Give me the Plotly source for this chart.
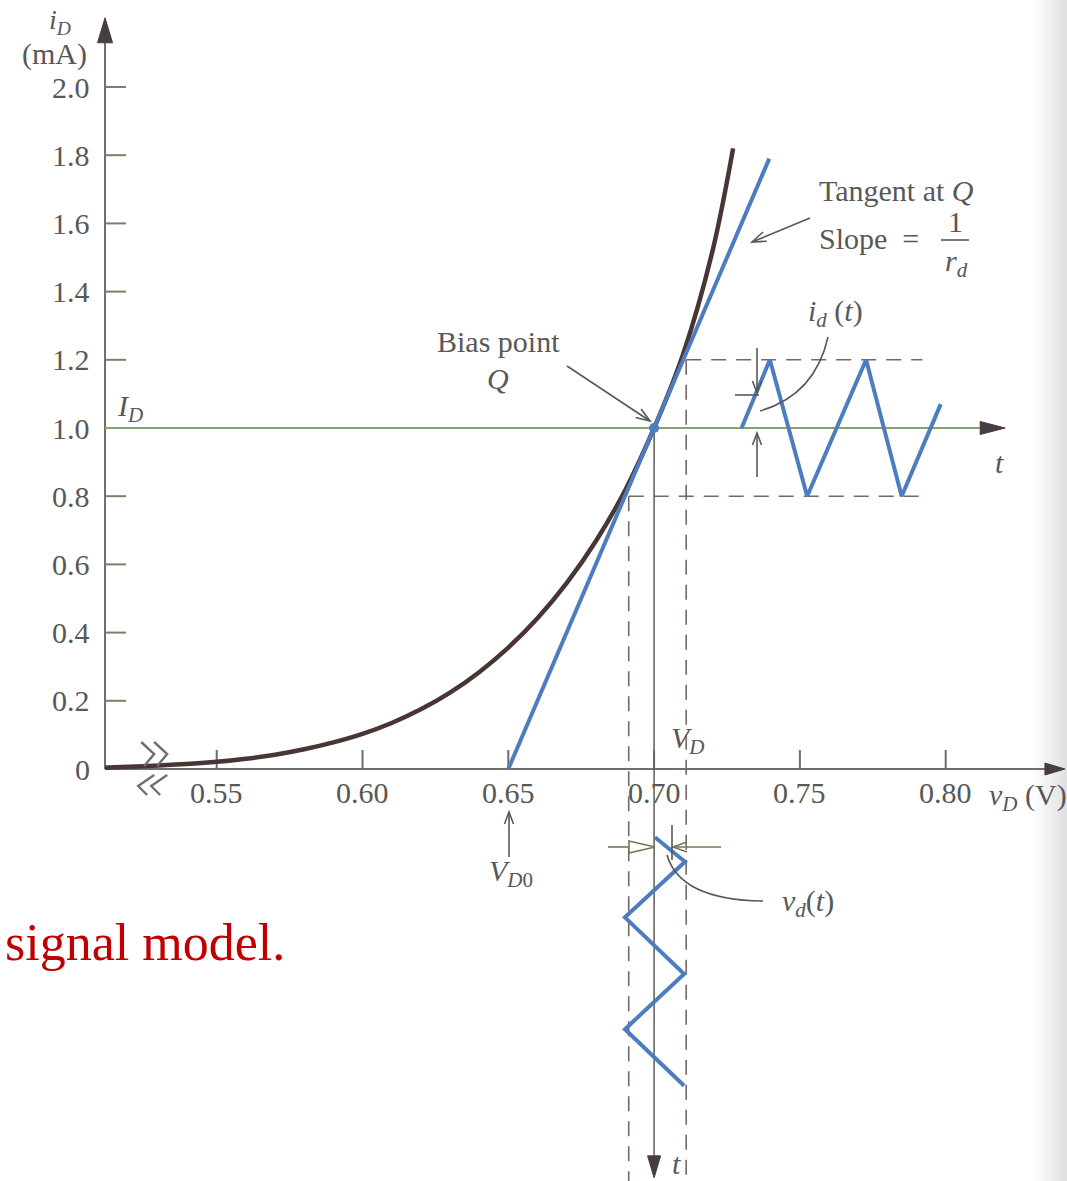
import math
import plotly.graph_objects as go

# ---------------------------------------------------------------- data
# diode characteristic i_D (mA) versus v_D (V)
v_curve = [0.5117, 0.530, 0.550, 0.560, 0.570, 0.580, 0.590, 0.600, 0.610,
           0.620, 0.630, 0.640, 0.650, 0.660, 0.670, 0.680, 0.690, 0.700,
           0.710, 0.720, 0.7271]
i_curve = [0.004, 0.010, 0.021, 0.030, 0.042, 0.058, 0.078, 0.103, 0.135,
           0.175, 0.224, 0.284, 0.356, 0.442, 0.545, 0.668, 0.816, 1.000,
           1.218, 1.518, 1.820]

# tangent at the bias point, slope = 1/r_d
v_tangent = [0.650, 0.7395]
i_tangent = [0.0, 1.79]

# bias point Q and the intercept V_D0
V_D, I_D = 0.70, 1.0
V_D0 = 0.65

# limits of the small-signal swing
v_lo, v_hi = 0.6913, 0.7110
i_lo, i_hi = 0.8, 1.2
swing_end_v = 0.792

# i_d(t) riding on I_D, time running to the right
id_time = [0.7300, 0.7397, 0.7525, 0.7727, 0.7849, 0.7983]
id_value = [1.00, 1.20, 0.80, 1.20, 0.80, 1.07]

# v_d(t) riding on V_D, time running downwards
vd_value = [0.7003, 0.7106, 0.6900, 0.7103, 0.6900, 0.7103]
vd_time = [-0.200, -0.272, -0.435, -0.601, -0.763, -0.929]

# axis ticks
y_ticks = [0.0, 0.2, 0.4, 0.6, 0.8, 1.0, 1.2, 1.4, 1.6, 1.8, 2.0]
y_tick_labels = ["0", "0.2", "0.4", "0.6", "0.8", "1.0", "1.2", "1.4", "1.6", "1.8", "2.0"]
x_ticks = [0.55, 0.60, 0.65, 0.70, 0.75, 0.80]
x_tick_labels = ["0.55", "0.60", "0.65", "0.70", "0.75", "0.80"]

# axis extents
v_axis_start, v_axis_end = 0.5117, 0.8409
i_axis_end = 2.203
id_axis_end = 0.8204
vd_axis_end = -1.199

# ---------------------------------------------------------------- canvas
W, H = 1067, 1181
KX = 0.05 / 145.8          # volts per pixel
KY = 0.2 / 68.2            # mA per pixel
X_LEFT = 0.55 - 216.7 * KX
Y_TOP = 769.0 * KY


def P(px, py):
    """Canvas pixel position -> (v, i) coordinates."""
    return X_LEFT + px * KX, Y_TOP - py * KY


SERIF = "Liberation Serif"
TXT = "#585858"
AXIS = "#6e6e6e"
DARK = "#463c42"
TICK = "#78806a"
CURVE = "#4a3535"
BLUE = "#4c7dbf"
GREEN = "#86a36a"
DASH = "#776666"
OLIVE = "#6f7a55"
RED = "#c00000"

shapes = []
annotations = []


def seg(x0, y0, x1, y1, color=AXIS, width=2, dash=None, layer="below"):
    d = dict(type="line", x0=x0, y0=y0, x1=x1, y1=y1, xref="x", yref="y",
             line=dict(color=color, width=width), layer=layer)
    if dash:
        d["line"]["dash"] = dash
    shapes.append(d)


def path_of(pts, close=False):
    s = "M " + " L ".join(f"{x:.6f},{y:.6f}" for x, y in pts)
    return s + (" Z" if close else "")


def solid_head(xt, yt, direction, length, half_w, color=DARK):
    ux, uy = {"up": (0, 1), "down": (0, -1), "right": (1, 0), "left": (-1, 0)}[direction]
    bx, by = xt - ux * length * KX, yt - uy * length * KY
    nx, ny = -uy, ux
    pts = [(xt, yt),
           (bx + nx * half_w * KX, by + ny * half_w * KY),
           (bx - nx * half_w * KX, by - ny * half_w * KY)]
    shapes.append(dict(type="path", path=path_of(pts, True), xref="x", yref="y",
                       fillcolor=color, line=dict(color=color, width=1), layer="below"))


def open_arrow(x0, y0, x1, y1, color=TXT, width=1.6, head=14, half_w=5, hollow=False):
    """Line from (x0,y0) to tip (x1,y1) with an open (or hollow-triangle) head."""
    dxp, dyp = (x1 - x0) / KX, (y1 - y0) / KY
    n = math.hypot(dxp, dyp)
    ux, uy = dxp / n, dyp / n
    nx, ny = -uy, ux
    bxp, byp = -ux * head, -uy * head
    a = (x1 + (bxp + nx * half_w) * KX, y1 + (byp + ny * half_w) * KY)
    b = (x1 + (bxp - nx * half_w) * KX, y1 + (byp - ny * half_w) * KY)
    if hollow:
        base = (x1 + bxp * KX, y1 + byp * KY)
        seg(x0, y0, base[0], base[1], color=color, width=width, layer="above")
        shapes.append(dict(type="path", path=path_of([a, (x1, y1), b], True),
                           xref="x", yref="y", fillcolor="white",
                           line=dict(color=color, width=width), layer="above"))
    else:
        seg(x0, y0, x1, y1, color=color, width=width, layer="above")
        shapes.append(dict(type="path", path=path_of([a, (x1, y1), b]),
                           xref="x", yref="y", line=dict(color=color, width=width),
                           layer="above"))


def curve_leader(p0, c, p1, color=TXT, width=1.6):
    shapes.append(dict(type="path", xref="x", yref="y", layer="above",
                       path=f"M {p0[0]:.6f},{p0[1]:.6f} Q {c[0]:.6f},{c[1]:.6f} {p1[0]:.6f},{p1[1]:.6f}",
                       line=dict(color=color, width=width)))


def label(xy, text, size=30, xanchor="center", yanchor="middle", color=TXT):
    annotations.append(dict(x=xy[0], y=xy[1], xref="x", yref="y", text=text,
                            showarrow=False, xanchor=xanchor, yanchor=yanchor,
                            font=dict(family=SERIF, size=size, color=color)))


# ---------------------------------------------------------------- axes
y_head, x_head = 25, 20
seg(v_axis_start, 0, v_axis_start, i_axis_end - y_head * KY)
solid_head(v_axis_start, i_axis_end, "up", y_head, 7.5)
seg(v_axis_start, 0, v_axis_end - x_head * KX, 0)
solid_head(v_axis_end, 0, "right", x_head, 6)

for yt in y_ticks[1:]:
    seg(v_axis_start, yt, v_axis_start + 21 * KX, yt, color=TICK, width=2)
for xt in x_ticks:
    seg(xt, 0, xt, 19 * KY, color=AXIS, width=2)

# axis break mark
brk_v = 0.5265
for off in (0.0, 13.0):
    x0 = brk_v + (off - 7) * KX
    up = [(x0 + 0 * KX, 27 * KY), (x0 + 13 * KX, 15 * KY), (x0 + 3 * KX, 3 * KY)]
    lo = [(x0 + 13 * KX, -6 * KY), (x0 - 3 * KX, -17 * KY), (x0 + 6 * KX, -26 * KY)]
    for pts in (up, lo):
        shapes.append(dict(type="path", path=path_of(pts), xref="x", yref="y",
                           line=dict(color="#707070", width=2.4), layer="above"))

# I_D level with its time axis
seg(v_axis_start, I_D, id_axis_end - 25 * KX, I_D, color=GREEN, width=2)
solid_head(id_axis_end, I_D, "right", 25, 6.5)

# V_D level with its downward time axis
seg(V_D, I_D, V_D, vd_axis_end + 22 * KY, color="#666666", width=1.6)
solid_head(V_D, vd_axis_end, "down", 22, 6.5)

# swing limits
DASHPAT = "15px,10px"
seg(v_hi, i_hi, swing_end_v, i_hi, color=DASH, width=1.6, dash=DASHPAT)
seg(v_lo, i_lo, swing_end_v, i_lo, color=DASH, width=1.6, dash=DASHPAT)
seg(v_lo, i_lo, v_lo, P(0, H + 5)[1], color=DASH, width=1.6, dash=DASHPAT)
seg(v_hi, i_hi, v_hi, P(0, H + 5)[1], color=DASH, width=1.6, dash=DASHPAT)

# ---------------------------------------------------------------- traces
fig = go.Figure()
fig.add_trace(go.Scatter(x=v_curve, y=i_curve, mode="lines", hoverinfo="skip",
                         line=dict(color=CURVE, width=4.5, shape="spline", smoothing=1.0)))
fig.add_trace(go.Scatter(x=v_tangent, y=i_tangent, mode="lines", hoverinfo="skip",
                         line=dict(color=BLUE, width=4)))
fig.add_trace(go.Scatter(x=id_time, y=id_value, mode="lines", hoverinfo="skip",
                         line=dict(color=BLUE, width=4)))
fig.add_trace(go.Scatter(x=vd_value, y=vd_time, mode="lines", hoverinfo="skip",
                         line=dict(color=BLUE, width=4)))
fig.add_trace(go.Scatter(x=[V_D], y=[I_D], mode="markers", hoverinfo="skip",
                         marker=dict(color=BLUE, size=10)))

# ---------------------------------------------------------------- labels
for yt, lab in zip(y_ticks, y_tick_labels):
    label((P(92, 0)[0], yt), lab, xanchor="right")
for xt, lab in zip(x_ticks, x_tick_labels):
    label((xt, P(0, 792)[1]), lab)

label(P(60, 21), "<i>i<sub>D</sub></i>", size=28)
label(P(54, 54), "(mA)")
label(P(1028, 797), "<i>v<sub>D</sub></i> (V)")
label(P(130, 408), "<i>I<sub>D</sub></i>")
label(P(999, 462), "<i>t</i>")
label(P(676, 1163), "<i>t</i>")

label(P(498, 341), "Bias point")
label(P(498, 378), "<i>Q</i>")
open_arrow(*P(567, 366), *P(650, 421))

label(P(896, 190), "Tangent at <i>Q</i>")
label(P(869, 238), "Slope  =")
label(P(955, 221), "1")
seg(*P(941, 240), *P(969, 240), color=TXT, width=1.6, layer="above")
label(P(956, 263), "<i>r<sub>d</sub></i>")
open_arrow(*P(810, 218), *P(752, 242))

label(P(835, 313), "<i>i<sub>d</sub></i> (<i>t</i>)")
curve_leader(P(760, 411), P(815, 395), P(828, 337))
open_arrow(*P(757, 348), *P(757, 393), head=12, half_w=4.5)
open_arrow(*P(757, 477), *P(757, 433), head=12, half_w=4.5)
seg(*P(735, 395), *P(759, 395), color=TXT, width=1.6, layer="above")

label(P(688, 740), "<i>V<sub>D</sub></i>")
label(P(511, 873), "<i>V<sub>D</sub></i><sub>0</sub>")
open_arrow(*P(509, 857), *P(509, 812), head=12, half_w=4.5)

label(P(808, 903), "<i>v<sub>d</sub></i>(<i>t</i>)")
curve_leader(P(667, 855), P(680, 900), P(763, 901))
open_arrow(*P(608, 847), *P(655, 847), color=OLIVE, head=26, half_w=6, hollow=True)
open_arrow(*P(721, 847), *P(673, 847), color=OLIVE, head=14, half_w=5)
seg(*P(672, 825), *P(672, 860), color=TXT, width=1.6, layer="above")

label(P(3, 942), "signal model.", size=52, xanchor="left", color=RED)

# faint shading along the right page edge
steps = 10
for k in range(steps):
    x0 = (1035 + k * 3.2) / W
    shapes.append(dict(type="rect", xref="paper", yref="paper", x0=x0, x1=1.0,
                       y0=0, y1=1, fillcolor="rgba(120,120,120,0.025)",
                       line=dict(width=0), layer="below"))

fig.update_layout(
    width=W, height=H, autosize=False,
    margin=dict(l=0, r=0, t=0, b=0, pad=0),
    paper_bgcolor="white", plot_bgcolor="white",
    showlegend=False,
    xaxis=dict(range=[X_LEFT, X_LEFT + W * KX], visible=False, fixedrange=True),
    yaxis=dict(range=[Y_TOP - H * KY, Y_TOP], visible=False, fixedrange=True),
    shapes=shapes, annotations=annotations,
)

fig.write_html("out.html")
